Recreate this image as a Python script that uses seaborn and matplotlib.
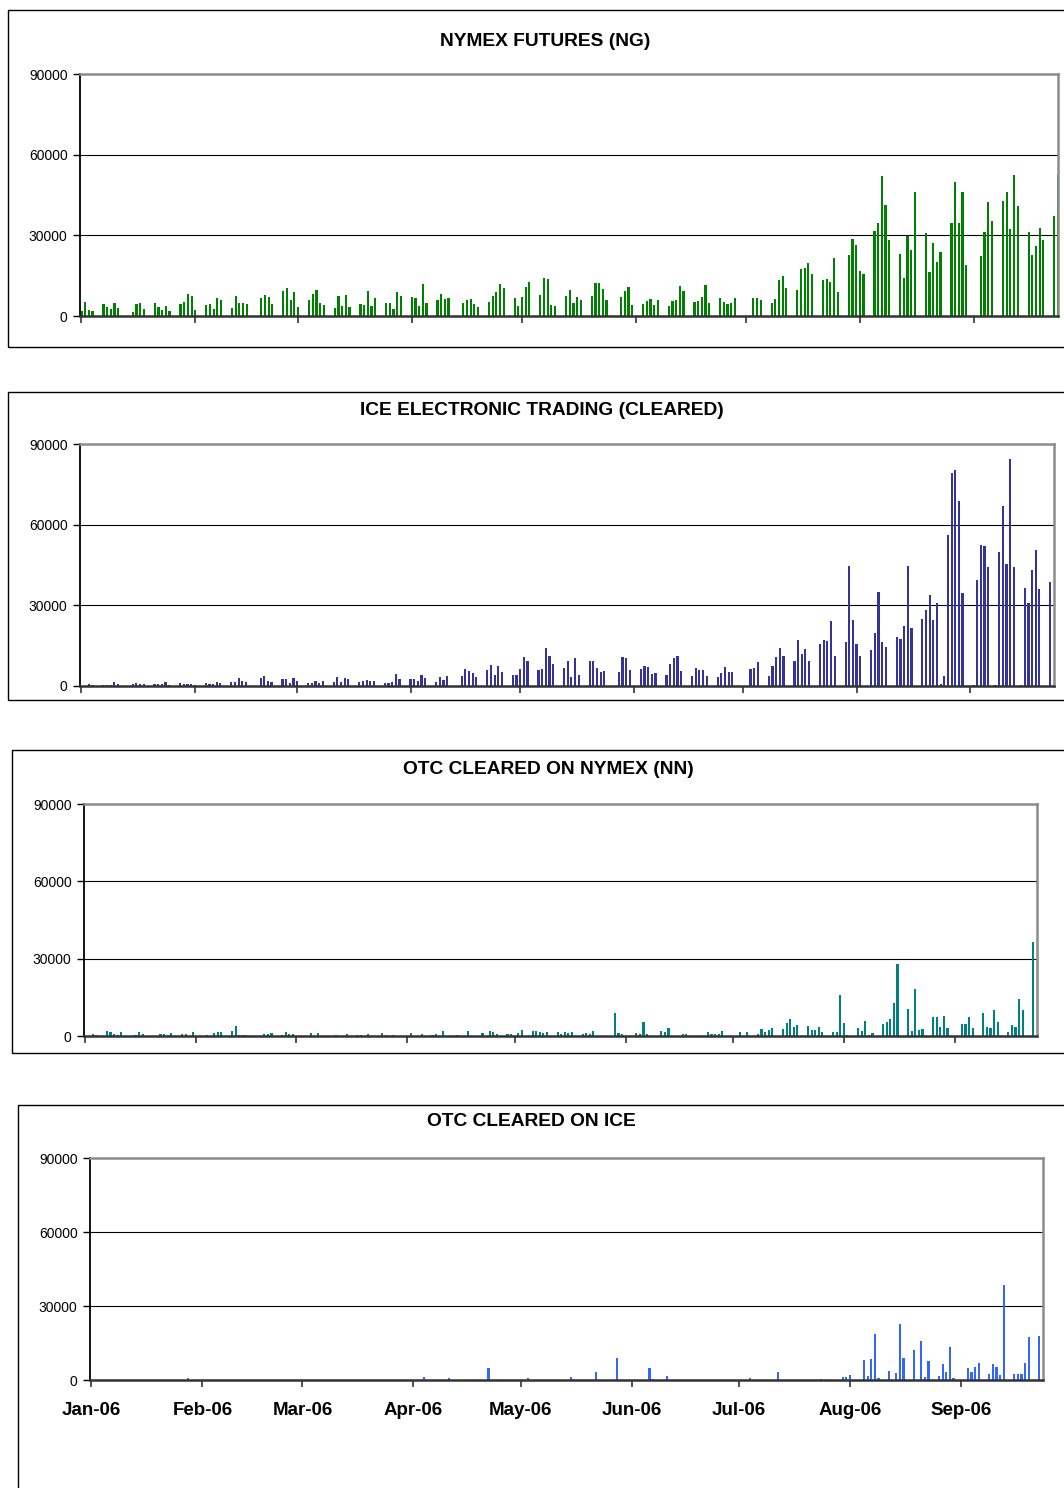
import numpy as np
import pandas as pd
import matplotlib
matplotlib.use("Agg")
import matplotlib.pyplot as plt
import matplotlib.dates as mdates
from matplotlib.patches import Rectangle
import seaborn as sns

# ---------------- data ----------------
start_day, end_day = "2006-01-03", "2006-09-26"
holidays = ["2006-01-16", "2006-02-20", "2006-04-14", "2006-05-29", "2006-07-04", "2006-09-04"]
month_ticks = ["2006-01-03", "2006-02-03", "2006-03-03", "2006-04-03", "2006-05-03",
               "2006-06-03", "2006-07-03", "2006-08-03", "2006-09-03"]
month_labels = ["Jan-06", "Feb-06", "Mar-06", "Apr-06", "May-06", "Jun-06", "Jul-06", "Aug-06", "Sep-06"]

titles = ["NYMEX FUTURES (NG)", "ICE ELECTRONIC TRADING (CLEARED)",
          "OTC CLEARED ON NYMEX (NN)", "OTC CLEARED ON ICE"]
y_ticks = [0, 30000, 60000, 90000]

# weekly values (trading days)
nymex_futures = [
    [1850, 5200, 2200, 1850], [4450, 3300, 2600, 4800, 3000], [1500, 4450, 4800, 2600],
    [4800, 3300, 2200, 3700, 1850], [4450, 5200, 8150, 7400, 2200], [4100, 4450, 2600, 6650, 5900],
    [3000, 7400, 4800, 4800, 4450], [6650, 7800, 7050, 4450], [9250, 10400, 5900, 8900, 3300],
    [5900, 8150, 9650, 4800, 4100], [3000, 7400, 3700, 7800, 3300], [4450, 4100, 9250, 3700, 6650],
    [4800, 4800, 2600, 8900, 7400], [7050, 6650, 3700, 11850, 4800], [5900, 8150, 6300, 6650],
    [4800, 5900, 6300, 4450, 3300], [5200, 7400, 8900, 11850, 10400], [6650, 3700, 7050, 10750, 12600],
    [7800, 14100, 13700, 4100, 3700], [7400, 9650, 4800, 7050, 5900], [7400, 12200, 12200, 10000, 5900],
    [7050, 9250, 10750, 4100], [4450, 5550, 6300, 4100, 5900], [3700, 5550, 5900, 11100, 9250],
    [5200, 5550, 7050, 11500, 4800], [6650, 5200, 4450, 4800, 6650], [0, 6650, 6650, 5900],
    [4800, 6300, 13350, 14800, 10400], [9650, 17400, 17800, 19650, 15550],
    [13350, 13700, 12600, 21500, 8900], [22600, 28550, 26300, 16700, 15550],
    [31500, 34450, 52250, 41100, 28150], [22950, 14100, 29650, 24450, 46300],
    [30750, 16300, 27050, 20000, 23700], [34450, 49650, 34450, 45950, 18900],
    [22250, 31100, 42250, 35200], [42600, 45950, 32250, 52600, 40750],
    [31100, 22600, 25950, 32600, 28150], [37050, 52600],
]

ice_electronic = [
    [100, 150, 600, 250], [200, 200, 300, 1400, 750], [600, 1000, 750, 750],
    [750, 750, 750, 1400, 300], [1000, 600, 600, 600, 300], [1100, 600, 750, 1500, 1100],
    [1500, 1500, 3000, 1850, 1500], [3000, 3750, 1850, 1500], [2600, 2600, 1100, 3000, 1850],
    [1100, 1100, 1850, 1100, 1850], [1500, 3350, 1500, 3000, 2600], [1500, 1850, 2250, 1850, 1850],
    [1100, 1100, 1500, 4500, 2600], [2600, 2600, 1850, 4100, 3000], [1500, 3350, 2250, 3750],
    [3750, 6350, 5600, 4850, 3350], [6000, 7850, 4100, 7450, 5250], [4100, 4100, 6350, 10850, 9350],
    [6000, 6350, 14200, 11200, 8200], [6700, 9350, 3350, 10450, 4100], [9350, 9350, 6700, 5250, 5600],
    [5250, 10850, 10450, 6000], [6350, 7450, 7100, 4500, 4850], [4100, 8200, 10450, 11200, 5600],
    [3750, 6700, 6000, 6000, 3750], [3350, 4850, 7100, 5250, 5250], [0, 6350, 6700, 8950],
    [3750, 7450, 10850, 14200, 11200], [9350, 17200, 11950, 13800, 9350],
    [15700, 17200, 16800, 24300, 11200], [16450, 44800, 24650, 15700, 11200],
    [13450, 19800, 35100, 16450, 14550], [18300, 17550, 22400, 44800, 21650],
    [25000, 28400, 34000, 24650, 31000], [56000, 79200, 80300, 68700, 34700],
    [39600, 52300, 51900, 44100], [50000, 66850, 45200, 84400, 44100],
    [36600, 31000, 43300, 50400, 36200], [38500, 0],
]
ice_weekend_days = ["2006-08-26", "2006-08-27", "2006-09-04", "2006-09-10", "2006-09-17"]
ice_weekend_vals = [750, 3750, 300, 300, 300]

otc_nymex = [
    [0, 150, 780, 390], [1950, 1560, 780, 390, 1560], [390, 1560, 900, 0],
    [0, 780, 780, 390, 1170], [780, 780, 0, 1560, 0], [390, 0, 1170, 1560, 1560],
    [1950, 3900, 390, 390, 390], [0, 780, 780, 1170], [390, 1560, 780, 780, 0],
    [0, 1170, 0, 1170, 0], [0, 390, 0, 0, 780], [390, 390, 0, 780, 0],
    [1170, 390, 0, 390, 0], [0, 1170, 0, 0, 780], [390, 780, 0, 1950],
    [390, 0, 0, 1950, 0], [1170, 0, 1950, 1560, 780], [780, 780, 0, 1170, 2350],
    [1950, 1950, 1560, 1170, 1560], [1560, 780, 1560, 1170, 1560], [780, 1170, 780, 1950, 0],
    [0, 9000, 1170, 780], [0, 1170, 780, 5480, 780], [0, 1950, 1560, 3130, 0],
    [780, 780, 0, 0, 0], [1560, 780, 780, 780, 1950], [0, 1560, 0, 1560],
    [780, 2740, 1560, 2350, 3130], [2740, 5090, 6650, 3520, 4300],
    [3910, 2350, 2350, 3520, 1560], [1560, 1560, 16040, 5090, 390],
    [3130, 1950, 5870, 390, 1170], [4700, 5480, 6650, 12900, 27780],
    [10560, 1950, 18390, 2350, 2740], [7430, 7430, 3520, 7820, 3130],
    [4700, 4700, 7430, 3130], [9000, 3520, 3130, 10170, 5480],
    [1560, 4300, 3520, 14470, 10170], [36400, 0],
]

otc_ice_days = [
    "2006-01-09", "2006-01-10", "2006-01-20", "2006-01-30", "2006-02-08", "2006-02-14",
    "2006-02-21", "2006-02-27", "2006-03-01", "2006-03-13", "2006-03-15", "2006-03-28",
    "2006-03-30", "2006-04-06", "2006-04-13", "2006-04-24", "2006-04-25", "2006-05-01",
    "2006-05-05", "2006-05-09", "2006-05-11", "2006-05-17", "2006-05-18", "2006-05-24",
    "2006-05-30", "2006-06-02", "2006-06-07", "2006-06-08", "2006-06-09", "2006-06-13",
    "2006-06-14", "2006-06-20", "2006-06-27", "2006-06-29", "2006-07-06", "2006-07-07",
    "2006-07-12", "2006-07-14", "2006-07-18", "2006-07-19", "2006-07-20", "2006-07-26",
    "2006-07-27", "2006-07-28", "2006-08-01", "2006-08-02", "2006-08-03", "2006-08-07",
    "2006-08-08", "2006-08-09", "2006-08-10", "2006-08-11", "2006-08-14", "2006-08-16",
    "2006-08-17", "2006-08-18", "2006-08-21", "2006-08-23", "2006-08-24", "2006-08-25",
    "2006-08-28", "2006-08-29", "2006-08-30", "2006-08-31", "2006-09-01", "2006-09-05",
    "2006-09-06", "2006-09-07", "2006-09-08", "2006-09-11", "2006-09-12", "2006-09-13",
    "2006-09-14", "2006-09-15", "2006-09-18", "2006-09-19", "2006-09-20", "2006-09-21",
    "2006-09-22", "2006-09-25",
]
otc_ice_vals = [
    150, 150, 150, 800, 150, 150,
    150, 150, 150, 150, 150, 150,
    150, 1200, 800, 4860, 200, 150,
    800, 150, 150, 1200, 300, 3240,
    8900, 150, 150, 4860, 300, 1600,
    200, 150, 150, 150, 800, 200,
    150, 3240, 150, 150, 150, 300,
    150, 150, 1200, 1200, 2000, 8100,
    1600, 8500, 18600, 800, 3650, 2840,
    22700, 8900, 12150, 15800, 1200, 7700,
    1600, 6480, 3240, 13350, 800, 4860,
    3240, 5270, 6900, 2430, 6480, 5270,
    2000, 38500, 2430, 2430, 2430, 6900,
    17400, 17800,
]

colors = ["#008000", "#333399", "#008080", "#3366FF"]

# ---------------- build tables ----------------
trading_days = [d for d in pd.bdate_range(start_day, end_day)
                if d.strftime("%Y-%m-%d") not in holidays]


def flat(weeks):
    return [v for w in weeks for v in w]


panels = [
    (list(trading_days), flat(nymex_futures)),
    (list(trading_days) + list(pd.to_datetime(ice_weekend_days)), flat(ice_electronic) + ice_weekend_vals),
    (list(trading_days), flat(otc_nymex)),
    (list(pd.to_datetime(otc_ice_days)), otc_ice_vals),
]

# ---------------- figure ----------------
sns.set_theme(style="white")
plt.rcParams["font.family"] = ["Liberation Sans", "DejaVu Sans"]

W, H = 1064, 1488
fig = plt.figure(figsize=(W / 100, H / 100), dpi=100)


def fx(px):
    return px / W


def fy(py):
    return 1 - py / H


# panel geometry in pixels: frame (x0, y0, y1), plot (x0, x1, ytop, ybottom), title (x, y)
frames = [(8, 10, 347), (8, 392, 700), (12, 750, 1053), (18, 1105, 1500)]
plots = [(80, 1058, 74, 316), (80, 1054, 444, 686), (84, 1037, 804, 1036), (90, 1043, 1158, 1380)]
title_pos = [(545, 41), (542, 411), (548, 769), (531, 1122)]

tick_nums = mdates.date2num(pd.to_datetime(month_ticks))
x_lo = mdates.date2num(pd.Timestamp(start_day)) - 0.4
x_hi = mdates.date2num(pd.Timestamp(end_day))

for i, ((days, vals), color) in enumerate(zip(panels, colors)):
    fx0, fy0, fy1 = frames[i]
    fig.patches.append(Rectangle((fx(fx0), fy(fy1)), fx(1075 - fx0), (fy1 - fy0) / H,
                                 transform=fig.transFigure, fill=False,
                                 edgecolor="black", linewidth=1.0, zorder=0))
    px0, px1, pyt, pyb = plots[i]
    ax = fig.add_axes([fx(px0), fy(pyb), fx(px1 - px0), (pyb - pyt) / H])

    df = pd.DataFrame({"day": mdates.date2num(pd.DatetimeIndex(days)), "volume": vals})
    sns.barplot(data=df, x="day", y="volume", native_scale=True, width=0.6,
                color=color, saturation=1, errorbar=None, orient="x",
                linewidth=0, antialiased=False, ax=ax)

    ax.set_xlim(x_lo, x_hi)
    ax.set_ylim(0, 90000)
    ax.set_xlabel("")
    ax.set_ylabel("")
    ax.set_yticks(y_ticks)
    ax.set_yticklabels([str(v) for v in y_ticks], fontsize=10, color="black")
    ax.set_xticks(tick_nums)
    if i == 3:
        ax.set_xticklabels(month_labels, fontsize=13.5, fontweight="bold", color="black")
    else:
        ax.set_xticklabels([""] * len(month_labels))

    ax.set_axisbelow(True)
    ax.yaxis.grid(True, color="black", linewidth=0.8)
    ax.xaxis.grid(False)

    ax.tick_params(axis="y", left=True, direction="out", length=5, width=1,
                   color="black", pad=4)
    ax.tick_params(axis="x", bottom=True, direction="out", length=5, width=1.2,
                   color="#333333", pad=11)

    ax.spines["left"].set_color("black")
    ax.spines["left"].set_linewidth(1.3)
    ax.spines["bottom"].set_color("#333333")
    ax.spines["bottom"].set_linewidth(1.8)
    for s in ("top", "right"):
        ax.spines[s].set_visible(True)
        ax.spines[s].set_color("#8c8c8c")
        ax.spines[s].set_linewidth(1.8)

    tx, ty = title_pos[i]
    fig.text(fx(tx), fy(ty), titles[i], ha="center", va="center",
             fontsize=13.8, fontweight="bold", color="black")

fig.savefig("out.png", dpi=100, facecolor="white")
